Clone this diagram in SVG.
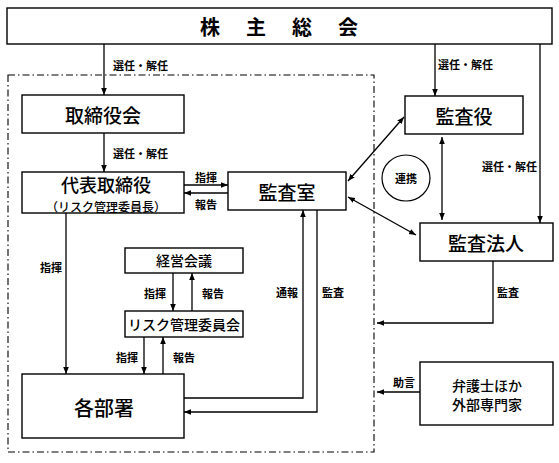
<svg xmlns="http://www.w3.org/2000/svg" width="559" height="463" viewBox="0 0 559 463">
<defs>
<marker id="ah" viewBox="0 0 10 10" refX="10" refY="5" markerWidth="7" markerHeight="7" markerUnits="userSpaceOnUse" orient="auto-start-reverse">
<path d="M0,1 L10,5 L0,9 z" fill="#000"/>
</marker>
<style>
.box{fill:#fff;stroke:#000;stroke-width:1.4}
.ln{fill:none;stroke:#000;stroke-width:1.3}
.t{font-family:"Noto Sans CJK JP","Noto Sans",sans-serif;fill:#000;text-anchor:middle;dominant-baseline:central}
.big{font-size:19px;font-weight:500}
.mid{font-size:14px;font-weight:500}
.sm{font-size:11px;font-weight:700}
.smL{font-family:"Noto Sans CJK JP","Noto Sans",sans-serif;fill:#000;font-size:11px;font-weight:700;dominant-baseline:central}
</style>
</defs>
<rect width="559" height="463" fill="#fff"/>
<rect x="8" y="75" width="366" height="377" fill="none" stroke="#000" stroke-width="1.1" stroke-dasharray="7,3,1.5,3"/>
<g id="connectors">
<line class="ln" x1="104" y1="44" x2="104" y2="95" marker-end="url(#ah)"/>
<line class="ln" x1="435" y1="44" x2="435" y2="96" marker-end="url(#ah)"/>
<line class="ln" x1="540" y1="44" x2="540" y2="223" marker-end="url(#ah)"/>
<line class="ln" x1="104" y1="133" x2="104" y2="172" marker-end="url(#ah)"/>
<line class="ln" x1="184" y1="185" x2="228" y2="185" marker-end="url(#ah)"/>
<line class="ln" x1="228" y1="193" x2="184" y2="193" marker-end="url(#ah)"/>
<line class="ln" x1="348" y1="181" x2="404" y2="117" marker-start="url(#ah)" marker-end="url(#ah)"/>
<line class="ln" x1="348" y1="197" x2="416" y2="235" marker-start="url(#ah)" marker-end="url(#ah)"/>
<line class="ln" x1="442" y1="137" x2="442" y2="220" marker-start="url(#ah)" marker-end="url(#ah)"/>
<line class="ln" x1="66" y1="213" x2="66" y2="374" marker-end="url(#ah)"/>
<line class="ln" x1="173" y1="273" x2="173" y2="311" marker-end="url(#ah)"/>
<line class="ln" x1="192" y1="311" x2="192" y2="273" marker-end="url(#ah)"/>
<line class="ln" x1="144" y1="337" x2="144" y2="374" marker-end="url(#ah)"/>
<line class="ln" x1="163" y1="374" x2="163" y2="337" marker-end="url(#ah)"/>
<polyline class="ln" points="184,398 303,398 303,210" marker-end="url(#ah)"/>
<polyline class="ln" points="317,210 317,412 184,412" marker-end="url(#ah)"/>
<polyline class="ln" points="493,261 493,323 377,323" marker-end="url(#ah)"/>
<line class="ln" x1="420" y1="392" x2="377" y2="392" marker-end="url(#ah)"/>
</g>
<g id="labels">
<text class="smL" x="113" y="65">選任・解任</text>
<text class="smL" x="438" y="64">選任・解任</text>
<text class="smL" x="113" y="153">選任・解任</text>
<text class="smL" x="482" y="166">選任・解任</text>
<text class="t sm" x="206" y="177">指揮</text>
<text class="t sm" x="206" y="204">報告</text>
<text class="t sm" x="51" y="267">指揮</text>
<text class="t sm" x="155" y="293">指揮</text>
<text class="t sm" x="213" y="293">報告</text>
<text class="t sm" x="127" y="357">指揮</text>
<text class="t sm" x="184" y="357">報告</text>
<text class="t sm" x="287" y="292">通報</text>
<text class="t sm" x="333" y="292">監査</text>
<text class="t sm" x="508" y="292">監査</text>
<text class="t sm" x="404" y="382">助言</text>
</g>
<g id="n-shareholders">
<rect class="box" x="7" y="8" width="545" height="36"/>
<text class="t" x="279" y="26" font-size="20" font-weight="700" letter-spacing="26" dx="13">株主総会</text>
</g>
<g id="n-board">
<rect class="box" x="22" y="95" width="162" height="38"/>
<text class="t big" x="103" y="114" font-size="20">取締役会</text>
</g>
<g id="n-ceo">
<rect class="box" x="22" y="172" width="162" height="41"/>
<text class="t" x="106" y="184" font-size="18" font-weight="500">代表取締役</text>
<text class="t" x="106" y="206" font-size="12" font-weight="500">（リスク管理委員長）</text>
</g>
<g id="n-audit-office">
<rect class="box" x="228" y="172" width="118" height="38"/>
<text class="t big" x="287" y="191">監査室</text>
</g>
<g id="n-auditor">
<rect class="box" x="405" y="96" width="118" height="38"/>
<text class="t big" x="464" y="115">監査役</text>
</g>
<g id="n-collab">
<ellipse cx="406" cy="178" rx="24" ry="23" fill="#fff" stroke="#000" stroke-width="1.2"/>
<text class="t sm" x="406" y="178" font-size="11.5">連携</text>
</g>
<g id="n-audit-firm">
<rect class="box" x="420" y="223" width="133" height="38"/>
<text class="t big" x="486" y="242">監査法人</text>
</g>
<g id="n-mgmt-meeting">
<rect class="box" x="125" y="248" width="118" height="25"/>
<text class="t mid" x="184" y="260">経営会議</text>
</g>
<g id="n-risk">
<rect class="box" x="125" y="311" width="118" height="26"/>
<text class="t mid" x="184" y="324">リスク管理委員会</text>
</g>
<g id="n-depts">
<rect class="box" x="22" y="374" width="162" height="64"/>
<text class="t" x="104" y="407" font-size="20" font-weight="500">各部署</text>
</g>
<g id="n-experts">
<rect class="box" x="420" y="362" width="133" height="63"/>
<text class="t mid" x="487" y="385">弁護士ほか</text>
<text class="t mid" x="487" y="404">外部専門家</text>
</g>
</svg>
